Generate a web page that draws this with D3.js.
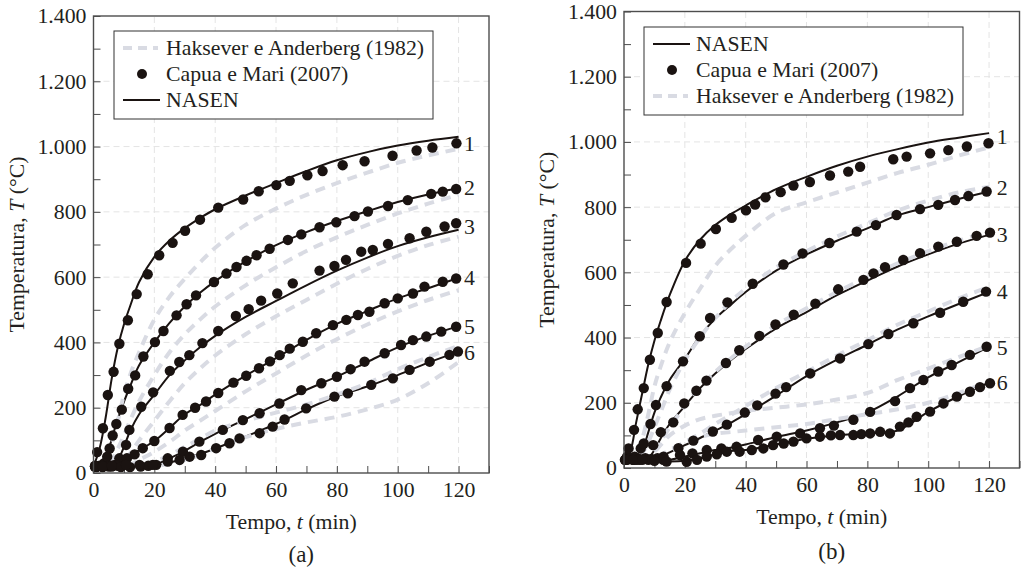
<!DOCTYPE html>
<html><head><meta charset="utf-8">
<script src="https://cdn.jsdelivr.net/npm/d3@7"></script>
<style>
body{margin:0;background:#fff;}
svg text{font-family:"Liberation Serif","Tinos","Times New Roman",Times,"DejaVu Serif",serif !important;fill:#231f20;}
</style></head>
<body><svg id="chart" width="1023" height="570"></svg>
<script>
// ---------- DATA ----------
const xTickValues = [0,20,40,60,80,100,120];
const yTickValues = [0,200,400,600,800,1000,1200,1400];
const yTickLabels = ["0","200","400","600","800","1.000","1.200","1.400"];
const curveNames = ["1","2","3","4","5","6"];
const seriesNames = {nasen:"NASEN", capua:"Capua e Mari (2007)", hak:"Haksever e Anderberg (1982)"};
const gridT = [0,2,4,6,8,10,12,15,20,25,30,35,40,50,60,70,80,90,100,110,120];

// Panel (a)
const aNasen = [
  [20,75,170,290,385,455,510,585,662,712,750,781,808,850,888,925,958,983,1003,1018,1030],
  [20,22,40,105,165,218,265,330,400,460,510,552,588,648,698,738,772,802,830,853,872],
  [20,20,20,22,40,80,128,180,240,300,345,385,420,478,527,575,620,660,695,722,745],
  [20,20,20,20,22,35,52,70,98,138,180,208,240,298,352,408,457,496,535,566,598],
  [20,20,20,20,20,18,18,20,25,45,68,95,120,165,210,255,295,340,385,420,450],
  [20,20,20,20,20,20,20,22,25,32,45,58,75,112,150,195,235,265,300,338,372]
];
const aHak = [
  [20,22,40,90,160,240,300,370,470,540,595,645,690,760,810,852,888,920,950,973,993],
  [20,20,22,40,75,115,160,220,300,370,425,470,510,575,630,680,722,760,795,825,852],
  [20,20,20,20,25,40,60,100,160,220,275,320,360,425,480,530,580,625,665,698,724],
  [20,20,20,20,20,22,25,40,65,95,130,160,190,250,305,360,410,455,495,530,560],
  [20,20,20,20,20,20,20,25,35,55,80,105,130,160,185,210,240,275,318,355,390],
  [20,20,20,20,20,20,20,20,22,28,40,55,75,110,135,155,172,195,225,275,340]
];
const aCapuaT = [
  [0.5,1.2,3.1,4.7,6.6,8.5,11.3,14.2,17.8,21.6,26,30.1,35,41,49.2,54.3,60.1,64.5,70.3,75.3,81.9,89.1,98.3,106.2,111.4,119.3],
  [0.5,2,3.5,4.5,5.3,6.3,7.5,9.3,11.4,13.7,16.4,20.2,23,27.3,30.6,33.7,39.6,43.7,47,50.3,53.6,57.9,63.9,68.3,74.3,79.8,85.8,90.2,96.8,103.3,111,114.8,119.2],
  [1,3,5,7,8.5,10.7,11.8,15.7,19.6,25.1,28.2,31.5,35.8,41,46.8,51,55.1,60.4,65.5,74.3,79.2,83,88,91.8,96.8,103.9,109.4,115.4,119.2],
  [1,3,5,8,11,13.5,16.2,20,25,29.3,33.4,37,41,46,50.2,54.4,58,61.2,64.5,68.8,73.2,78.7,83.1,86.9,90.7,95.7,100,105,108.8,114.8,119.2],
  [0.5,3,6,9,12,15.5,18,20.6,24.4,29.4,34.8,42.5,49.1,54.6,61.1,68.3,74.9,80,84.5,89.1,95.7,101.1,105,109.4,114.3,119.2],
  [0.5,3,6,10.7,15.1,19.5,24.4,28.3,31.6,35.4,40.3,44.7,48,54.6,58.9,62.8,69.9,79.2,83.6,91.3,98.4,103.9,110.5,117,119.8]
];
const aCapuaV = [
  [22,64,137,239,310,396,468,548,609,667,705,742,776,813,838,863,882,895,912,925,943,955,972,988,997,1010],
  [20,22,30,50,75,115,150,194,258,299,357,401,435,483,517,544,585,611,631,650,667,687,714,731,753,768,787,801,818,836,855,862,870],
  [20,22,22,25,45,86,132,203,247,313,340,361,398,435,481,502,528,550,581,620,634,653,678,683,702,719,739,755,765],
  [18,18,20,22,45,57,76,98,138,178,200,219,245,277,298,321,342,361,381,402,428,453,469,484,494,520,535,550,571,586,596],
  [20,20,20,18,18,20,22,25,45,65,96,132,162,183,213,254,275,295,318,341,367,392,407,418,433,448],
  [20,20,22,25,25,25,35,40,50,55,76,91,106,122,142,164,198,234,244,270,290,316,341,362,372]
];
const aLabelT = [1008,873,755,597,448,367];

// Panel (b)
const bNasen = [
  [25,50,140,230,318,390,450,530,635,700,745,778,805,855,893,927,955,978,998,1013,1027],
  [25,28,35,55,110,170,215,270,335,405,458,500,540,605,655,697,735,775,800,825,848],
  [25,25,25,25,30,55,90,135,190,245,290,330,365,428,478,530,575,618,655,688,715],
  [25,25,25,25,25,28,35,48,70,92,115,138,165,222,282,332,378,425,465,503,540],
  [25,25,25,25,25,25,25,25,35,45,55,62,72,95,115,140,170,220,278,325,372],
  [25,25,25,25,24,22,21,20,22,30,42,52,55,72,90,100,106,115,172,220,262]
];
const bHak = [
  [25,28,45,90,165,250,310,385,475,550,620,670,712,782,815,845,875,905,930,958,983],
  [25,25,30,45,80,125,170,240,330,400,460,510,550,615,665,710,750,790,820,845,862],
  [25,25,25,25,28,50,80,125,190,250,295,335,372,438,490,540,585,628,665,697,725],
  [25,25,25,25,28,32,40,55,80,105,135,162,190,245,295,345,392,440,480,520,555],
  [25,25,25,28,35,50,70,100,130,150,160,168,175,185,195,210,230,270,305,340,375],
  [25,25,25,25,25,30,35,50,75,95,105,110,115,125,135,150,165,180,200,230,265]
];
const bCapuaT = [
  [0.3,1,1.5,3.3,4.5,6.5,8.5,11.1,14,20.4,25.2,30.2,35.4,40.1,43.1,46.5,51.5,55.7,61.1,67.7,73.7,77.6,88.5,92.9,100.6,106.6,112.7,119.8],
  [0.5,2,3.5,5.5,6.5,8.7,10.5,14,19.4,24.9,28.3,34,42.3,52.4,58.7,67.5,76.5,82.8,89.6,97.3,103.3,108.8,113.2,119.2],
  [0.5,3,5,7,9.6,12.1,16.2,19.8,23.8,27.1,33.5,37.9,44.5,49.8,55.8,62.9,70.4,78.7,82,85.8,91.8,97.3,103.3,109.4,115.9,120.3],
  [0.5,4,8,11,13,17.9,22.8,29.2,33.8,39.7,43.8,49.8,53.3,61.2,71,80.3,86.9,95.1,103.9,111.5,119],
  [1,5,9,12.9,18.4,22.5,27.2,32,37,44.1,50.2,57.9,64.4,69,75.4,80.9,89.1,94,98.4,103.3,107.7,113.7,119.2],
  [0.5,3,6,10,14,20.6,24,27.2,30.5,33.8,38,42,45.8,49,52.5,55.7,60,64.4,68,71,75.4,78,80.9,84.2,87.4,90.7,93.5,96.2,100.6,105,109.4,113.7,117,120.3]
];
const bCapuaV = [
  [25,35,60,117,180,245,332,414,509,629,688,733,767,790,808,830,846,866,877,897,909,924,947,955,965,975,986,996],
  [25,28,35,60,75,135,193,251,327,404,460,508,565,624,658,690,725,745,776,794,807,822,834,848],
  [25,25,28,30,70,110,140,198,237,268,322,361,405,440,470,504,548,577,597,616,638,659,679,694,712,722],
  [25,25,25,30,35,61,84,112,133,170,192,228,248,290,336,380,411,444,476,510,541],
  [25,25,28,25,40,45,55,60,65,86,96,106,122,130,148,172,205,245,270,296,316,347,372],
  [25,25,25,22,20,19,25,35,42,50,50,55,60,70,75,81,91,96,100,101,101,104,106,111,106,127,140,157,173,198,219,234,248,260]
];
const bLabelT = [1016,859,715,541,367,260];

// ---------- DRAW ----------
const svg = d3.select("#chart");
svg.append("rect").attr("width",1023).attr("height",570).attr("fill","#fff");

const INK = "#1a1311", HAK = "#d9dbe3", FRAME = "#4d4d4d";
const FONT = '"Liberation Serif", "Tinos", "Times New Roman", Times, "DejaVu Serif", serif';
const FS = 21.8;

function panel(cfg) {
  const x = d3.scaleLinear().domain([0,130]).range([cfg.x0, cfg.x1]);
  const y = d3.scaleLinear().domain([0,1400]).range([cfg.y0, cfg.y1]);
  const g = svg.append("g").attr("font-family", FONT);

  // grid
  g.append("g").selectAll("line").data(xTickValues.filter(v => v>0))
    .join("line").attr("x1",d=>x(d)).attr("x2",d=>x(d)).attr("y1",y(0)).attr("y2",y(1400))
    .attr("stroke","#e4e4e4").attr("stroke-width",1).attr("stroke-dasharray","6,4");
  g.append("g").selectAll("line").data(yTickValues.filter(v => v>0 && v<1400))
    .join("line").attr("y1",d=>y(d)).attr("y2",d=>y(d)).attr("x1",x(0)).attr("x2",x(130))
    .attr("stroke","#e4e4e4").attr("stroke-width",1).attr("stroke-dasharray","6,4");

  // axes
  const xAxis = d3.axisBottom(x).tickValues(d3.range(0,131,10))
    .tickSizeInner(-7).tickSizeOuter(0).tickPadding(9)
    .tickFormat(d => xTickValues.includes(d) ? String(d) : "");
  const gx = g.append("g").attr("transform",`translate(0,${y(0)})`).call(xAxis);
  gx.attr("font-family", FONT).attr("font-size",FS);
  gx.select(".domain").remove();
  gx.selectAll("line").attr("stroke",FRAME);
  gx.selectAll("text").attr("fill","#231f20");

  const yAxis = d3.axisLeft(y).tickValues(d3.range(0,1401,100))
    .tickSizeInner(-7).tickSizeOuter(0).tickPadding(7)
    .tickFormat(d => { const i = yTickValues.indexOf(d); return i>=0 ? yTickLabels[i] : ""; });
  const gy = g.append("g").attr("transform",`translate(${x(0)},0)`).call(yAxis);
  gy.attr("font-family", FONT).attr("font-size",FS);
  gy.select(".domain").remove();
  gy.selectAll("line").attr("stroke",FRAME);
  gy.selectAll("text").attr("fill","#231f20");

  // series
  const line = d3.line().x(d=>x(d[0])).y(d=>y(d[1])).curve(d3.curveCatmullRom.alpha(0.5));
  cfg.nasen.forEach(vals => {
    g.append("path").attr("d", line(gridT.map((t,i)=>[t,vals[i]])))
      .attr("fill","none").attr("stroke",INK).attr("stroke-width",2);
  });
  cfg.hak.forEach(vals => {
    g.append("path").attr("d", line(gridT.map((t,i)=>[t,vals[i]])))
      .attr("fill","none").attr("stroke",HAK).attr("stroke-width",4).attr("stroke-dasharray","10,7");
  });
  cfg.capT.forEach((ts,k) => {
    g.append("g").selectAll("circle").data(ts.map((t,i)=>[t,cfg.capV[k][i]]))
      .join("circle").attr("cx",d=>x(d[0])).attr("cy",d=>y(d[1])).attr("r",5.2).attr("fill",INK);
  });

  // curve labels
  g.append("g").selectAll("text").data(curveNames).join("text")
    .attr("x", x(cfg.labelX)).attr("y",(d,i)=>y(cfg.labelT[i]))
    .attr("text-anchor","middle").attr("dominant-baseline","central")
    .attr("font-size",FS).text(d=>d);

  // frame
  g.append("rect").attr("x",x(0)).attr("y",y(1400)).attr("width",x(130)-x(0)).attr("height",y(0)-y(1400))
    .attr("fill","none").attr("stroke",FRAME).attr("stroke-width",1.4);

  // axis titles
  const cx = (x(0)+x(130))/2;
  const xt = g.append("text").attr("x",cx).attr("y",y(0)+55.5).attr("text-anchor","middle").attr("font-size",FS);
  xt.append("tspan").text("Tempo, ");
  xt.append("tspan").attr("font-style","italic").text("t");
  xt.append("tspan").text(" (min)");
  const cy = (y(0)+y(1400))/2;
  const yt = g.append("text").attr("transform",`translate(${cfg.ylabX},${cy}) rotate(-90)`)
    .attr("text-anchor","middle").attr("dominant-baseline","central").attr("font-size",FS);
  yt.append("tspan").text("Temperatura, ");
  yt.append("tspan").attr("font-style","italic").text("T");
  yt.append("tspan").text(" (°C)");
  g.append("text").attr("x",cx+10).attr("y",cfg.capY).attr("text-anchor","middle").attr("font-size",23).text(cfg.caption);

  // legend
  const L = cfg.legend;
  g.append("rect").attr("x",L.x).attr("y",L.y).attr("width",319).attr("height",88)
    .attr("fill","#fff").attr("stroke","#333").attr("stroke-width",1);
  L.order.forEach((key,i) => {
    const ry = L.y + 17 + i*26;
    if (key === "nasen") {
      g.append("line").attr("x1",L.x+9).attr("x2",L.x+46).attr("y1",ry).attr("y2",ry).attr("stroke",INK).attr("stroke-width",2);
    } else if (key === "hak") {
      g.append("line").attr("x1",L.x+9).attr("x2",L.x+44).attr("y1",ry).attr("y2",ry).attr("stroke",HAK).attr("stroke-width",4).attr("stroke-dasharray","9,6");
    } else {
      g.append("circle").attr("cx",L.x+28).attr("cy",ry).attr("r",5).attr("fill",INK);
    }
    g.append("text").attr("x",L.x+52).attr("y",ry).attr("dominant-baseline","central").attr("font-size",FS).text(seriesNames[key]);
  });
}

panel({x0:93.5, x1:489, y0:473, y1:16, nasen:aNasen, hak:aHak, capT:aCapuaT, capV:aCapuaV,
  labelT:aLabelT, labelX:123.6, ylabX:17, caption:"(a)", capY:562,
  legend:{x:114, y:31, order:["hak","capua","nasen"]}});
panel({x0:624, x1:1019.5, y0:468, y1:11.5, nasen:bNasen, hak:bHak, capT:bCapuaT, capV:bCapuaV,
  labelT:bLabelT, labelX:124.3, ylabX:547, caption:"(b)", capY:559,
  legend:{x:644, y:27, order:["nasen","capua","hak"]}});
</script></body></html>
